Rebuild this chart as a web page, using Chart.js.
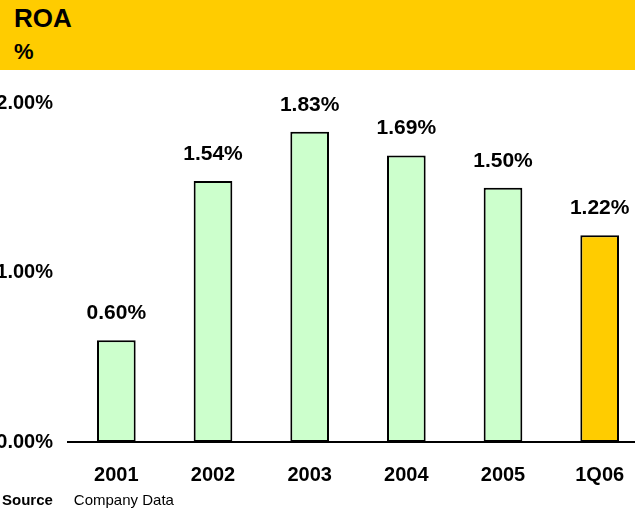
<!DOCTYPE html>
<html>
<head>
<meta charset="utf-8">
<script src="https://cdn.jsdelivr.net/npm/chart.js@4"></script>
<style>
  html, body { margin: 0; padding: 0; background: #fff; overflow: hidden; width: 635px; height: 512px; position: relative; font-family: "Liberation Sans", Arial, sans-serif; }
  .header { position: absolute; left: 0; top: 0; width: 635px; height: 70px; background: #FFCC00; }
  .title { position: absolute; left: 14px; top: 5px; font-size: 26px; line-height: 26px; font-weight: bold; color: #000; }
  .unit { position: absolute; left: 14px; top: 41px; font-size: 22px; line-height: 22px; font-weight: bold; color: #000; }
  .wrap { position: absolute; left: -10px; top: 70px; width: 658px; height: 442px; }
  .source { position: absolute; left: 2px; top: 492px; font-size: 15px; line-height: 15px; color: #000; }
  .source b { margin-right: 21px; }
</style>
</head>
<body>
<div class="header">
  <div class="title">ROA</div>
  <div class="unit">%</div>
</div>
<div class="wrap"><canvas id="chart"></canvas></div>
<div class="source"><b>Source</b>Company Data</div>
<script>
const years = ['2001', '2002', '2003', '2004', '2005', '1Q06'];
const roa = [0.60, 1.54, 1.83, 1.69, 1.50, 1.22];
const barColors = ['#CCFFCC', '#CCFFCC', '#CCFFCC', '#CCFFCC', '#CCFFCC', '#FFCC00'];

const fontFamily = '"Liberation Sans", Arial, sans-serif';

// value labels above each bar
const valueLabels = {
  id: 'valueLabels',
  afterDatasetsDraw(chart) {
    const ctx = chart.ctx;
    const meta = chart.getDatasetMeta(0);
    ctx.save();
    ctx.font = 'bold 21px ' + fontFamily;
    ctx.fillStyle = '#000';
    ctx.textAlign = 'center';
    ctx.textBaseline = 'middle';
    meta.data.forEach((bar, i) => {
      ctx.fillText(roa[i].toFixed(2) + '%', bar.x, bar.y - 27);
    });
    ctx.restore();
  }
};

new Chart(document.getElementById('chart'), {
  type: 'bar',
  data: {
    labels: years,
    datasets: [{
      data: roa,
      backgroundColor: barColors,
      borderColor: '#000',
      borderWidth: 2,
      borderSkipped: false,
      barPercentage: 0.4,
      categoryPercentage: 1.0
    }]
  },
  options: {
    responsive: true,
    maintainAspectRatio: false,
    animation: false,
    layout: { padding: { top: 33, right: 0, bottom: 0, left: 0 } },
    plugins: {
      legend: { display: false },
      tooltip: { enabled: false }
    },
    scales: {
      x: {
        grid: { display: false, drawTicks: false },
        border: { display: true, color: '#000', width: 2 },
        ticks: {
          color: '#000',
          padding: 21,
          font: { family: fontFamily, size: 20, weight: 'bold' }
        },
        afterFit(axis) { axis.height = 70; }
      },
      y: {
        min: 0,
        max: 2,
        grid: { display: false, drawTicks: false },
        border: { display: false },
        ticks: {
          stepSize: 1,
          color: '#000',
          padding: 15,
          font: { family: fontFamily, size: 20, weight: 'bold' },
          callback: (v) => v.toFixed(2) + '%'
        },
        afterFit(axis) { axis.width = 78; }
      }
    }
  },
  plugins: [valueLabels]
});
</script>
</body>
</html>
